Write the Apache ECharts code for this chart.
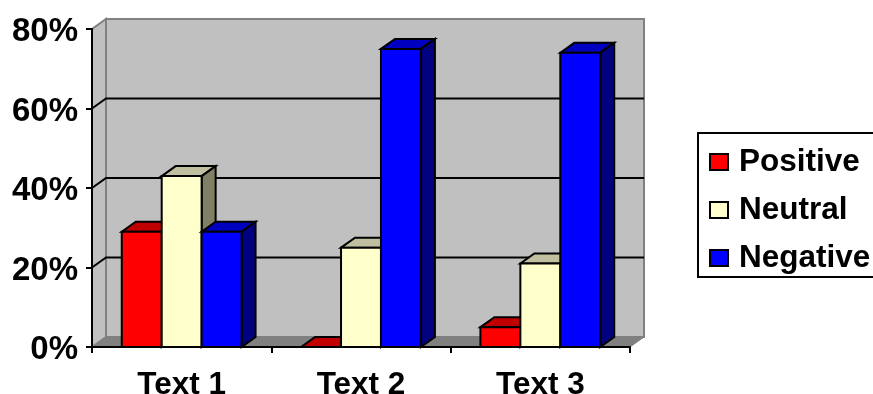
<!DOCTYPE html>
<html>
<head>
<meta charset="utf-8">
<style>html,body{margin:0;padding:0;background:#fff;overflow:hidden}#c{width:873px;height:394px}</style>
<script src="https://cdn.jsdelivr.net/npm/echarts@6/dist/echarts.min.js"></script>
</head>
<body>
<div id="c"></div>
<script>
const categories = ['Text 1', 'Text 2', 'Text 3'];
const positive = [29, 0, 5];
const neutral = [43, 25, 21];
const negative = [29, 75, 74];
const gridValues = [20, 40, 60];

const FONT = '"Liberation Sans", Arial, sans-serif';
const DX = 14, DY = -10;        // oblique depth of the 3D box
const BAR_SHARE = 0.2227;       // bar width as a share of the category band

function poly(points, fill, stroke, width) {
  return {
    type: 'polygon',
    shape: { points },
    style: { fill, stroke, lineWidth: width, lineJoin: 'miter' }
  };
}

// Back wall, side wall and floor of the chart box
function renderBox(params, api) {
  const band = api.size([1, 0])[0];
  const bl = api.coord([0, 0]); bl[0] -= band / 2;
  const tl = api.coord([0, 80]); tl[0] -= band / 2;
  const br = api.coord([2, 0]); br[0] += band / 2;
  const tr = [br[0], tl[1]];
  const back = p => [p[0] + DX, p[1] + DY];
  const grey = '#808080';
  return {
    type: 'group',
    children: [
      poly([back(tl), back(tr), back(br), back(bl)], '#c0c0c0', grey, 2),
      poly([tl, back(tl), back(bl), bl], '#c0c0c0', grey, 2),
      poly([bl, back(bl), back(br), br], grey, grey, 1)
    ]
  };
}

// Gridline running up the side wall and across the back wall
function renderGridline(params, api) {
  const band = api.size([1, 0])[0];
  const a = api.coord([0, api.value(0)]); a[0] -= band / 2;
  const b = api.coord([2, api.value(0)]); b[0] += band / 2;
  return {
    type: 'polyline',
    shape: { points: [a, [a[0] + DX, a[1] + DY], [b[0] + DX, b[1] + DY]] },
    style: { fill: 'none', stroke: '#000', lineWidth: 2 }
  };
}

// Extruded column: front, top and right faces
function barRenderer(slot, colors) {
  return function (params, api) {
    const band = api.size([1, 0])[0];
    const w = band * BAR_SHARE;
    const top = api.coord([api.value(0), api.value(1)]);
    const base = api.coord([api.value(0), 0]);
    const x0 = top[0] + (slot - 1.5) * w;
    const x1 = x0 + w;
    const y0 = top[1], y1 = base[1];
    const s = '#000';
    return {
      type: 'group',
      children: [
        poly([[x0, y0], [x0 + DX, y0 + DY], [x1 + DX, y0 + DY], [x1, y0]], colors[1], s, 2),
        poly([[x1, y0], [x1 + DX, y0 + DY], [x1 + DX, y1 + DY], [x1, y1]], colors[2], s, 2),
        poly([[x0, y0], [x1, y0], [x1, y1], [x0, y1]], colors[0], s, 2)
      ]
    };
  };
}

function barSeries(name, values, slot, colors) {
  return {
    type: 'custom',
    name,
    clip: false,
    z: 4,
    itemStyle: { color: colors[0] },
    encode: { x: 0, y: 1 },
    data: values.map((v, i) => [i, v]),
    renderItem: barRenderer(slot, colors)
  };
}

const chart = echarts.init(document.getElementById('c'), null, { renderer: 'canvas' });
chart.setOption({
  animation: false,
  backgroundColor: '#fff',
  grid: { left: 92, right: 243, top: 29, bottom: 47, outerBoundsMode: 'none' },
  legend: {
    orient: 'vertical',
    left: 698,
    top: 133,
    icon: 'rect',
    selectedMode: false,
    data: ['Positive', 'Neutral', 'Negative'],
    backgroundColor: '#fff',
    borderColor: '#000',
    borderWidth: 2,
    padding: [10, 10, 0, 11],
    itemWidth: 18,
    itemHeight: 16,
    itemGap: 10,
    itemStyle: { borderColor: '#000', borderWidth: 2 },
    textStyle: { fontFamily: FONT, fontWeight: 'bold', fontSize: 31.5, lineHeight: 35, color: '#000', padding: [3, 0, 0, 6] }
  },
  xAxis: {
    type: 'category',
    data: categories,
    z: 10,
    axisLine: { lineStyle: { color: '#000', width: 2 } },
    axisTick: { show: true, length: 6, lineStyle: { color: '#000', width: 2 } },
    axisLabel: { fontFamily: FONT, fontWeight: 'bold', fontSize: 31.5, color: '#000', margin: 22 },
    splitLine: { show: false }
  },
  yAxis: {
    type: 'value',
    min: 0,
    max: 80,
    interval: 20,
    z: 10,
    axisLine: { show: true, lineStyle: { color: '#000', width: 2 } },
    axisTick: { show: true, length: 6, lineStyle: { color: '#000', width: 2 } },
    axisLabel: { formatter: '{value}%', fontFamily: FONT, fontWeight: 'bold', fontSize: 33, color: '#000', margin: 14, verticalAlign: 'top', lineHeight: 6 },
    splitLine: { show: false }
  },
  series: [
    { type: 'custom', silent: true, clip: false, z: 1, encode: { x: 0, y: 1 }, data: [[0, 0]], renderItem: renderBox },
    { type: 'custom', silent: true, clip: false, z: 2, data: gridValues.map(v => [v]), encode: { y: 0 }, renderItem: renderGridline },
    barSeries('Positive', positive, 0, ['#ff0000', '#c00000', '#800000']),
    barSeries('Neutral', neutral, 1, ['#ffffcc', '#c0c0a0', '#808066']),
    barSeries('Negative', negative, 2, ['#0000ff', '#0000c0', '#000080'])
  ]
});
</script>
</body>
</html>
